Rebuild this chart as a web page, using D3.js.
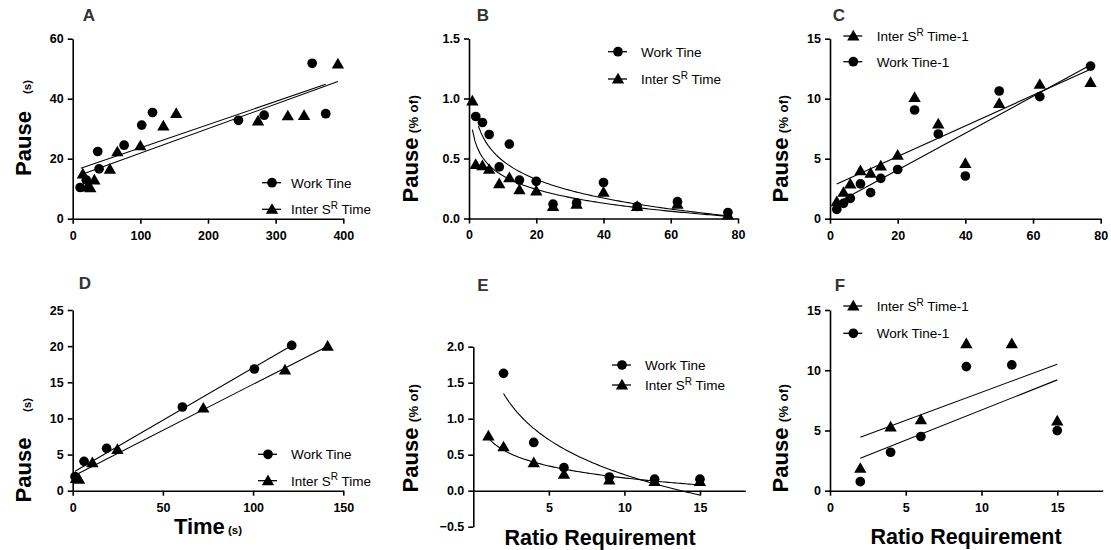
<!DOCTYPE html>
<html><head><meta charset="utf-8">
<script src="https://cdn.jsdelivr.net/npm/d3@7"></script>
<style>
body{margin:0;background:#fff;}
svg{display:block;font-family:"Liberation Sans",Arial,sans-serif;}
.tick text{font-weight:bold;font-size:12.5px;fill:#000;}
.domain,.tick line{stroke:#000;stroke-width:1.6px;}
</style></head>
<body>
<svg id="c" width="1111" height="550"></svg>
<script>
// ---------- Panel A: Pause (s) vs Time (s) ----------
const aWorkX  = [11, 20, 37, 39, 76, 102, 118, 245, 283, 354, 374];
const aWorkY  = [10.4, 12.9, 22.4, 16.6, 24.5, 31.2, 35.4, 32.8, 34.5, 51.8, 35.0];
const aInterX = [15, 22, 26, 32, 55, 66, 100, 134, 153, 274, 318, 342, 392];
const aInterY = [14.9, 10.6, 10.3, 12.9, 16.5, 22.3, 24.3, 30.9, 35.1, 32.6, 34.3, 34.4, 51.6];
const aWorkFit  = [12, 16.8, 374, 44.8];
const aInterFit = [15, 14.9, 392, 45.7];
const aXTicks = [0, 100, 200, 300, 400];
const aYTicks = [0, 20, 40, 60];

// ---------- Panel B: Pause (% of) vs ratio ----------
const bWorkX  = [2, 4, 6, 9, 12, 15, 20, 25, 32, 40, 50, 62, 77];
const bWorkY  = [0.85, 0.80, 0.70, 0.43, 0.62, 0.32, 0.31, 0.12, 0.13, 0.30, 0.10, 0.14, 0.05];
const bInterX = [1, 2, 4, 6, 9, 12, 15, 20, 25, 32, 40, 50, 62, 77];
const bInterY = [0.98, 0.45, 0.44, 0.41, 0.29, 0.34, 0.24, 0.23, 0.10, 0.12, 0.22, 0.10, 0.12, 0.03];
// log fit y = a - b*ln(x), [a, b, xmin, xmax]
const bWorkFit  = [1.0, 0.225, 2.8, 77];
const bInterFit = [0.74, 0.166, 1, 77];
const bXTicks = [0, 20, 40, 60, 80];
const bYTicks = [0, 0.5, 1.0, 1.5];

// ---------- Panel C ----------
const cX      = [2, 4, 6, 9, 12, 15, 20, 25, 32, 40, 50, 62, 77];
const cInterY = [1.42, 2.2, 2.9, 4.0, 3.8, 4.4, 5.3, 10.1, 7.9, 4.6, 9.6, 11.2, 11.35];
const cWorkY  = [0.78, 1.28, 1.7, 2.9, 2.17, 3.36, 4.1, 9.06, 7.06, 3.56, 10.64, 10.17, 12.72];
const cWorkFit  = [2, 1.3, 77, 12.8];
const cInterFit = [2, 2.9, 77, 12.45];
const cXTicks = [0, 20, 40, 60, 80];
const cYTicks = [0, 5, 10, 15];

// ---------- Panel D ----------
const dWorkX  = [1.3, 6.3, 18.8, 60.8, 100.7, 121.4];
const dWorkY  = [1.94, 4.06, 5.86, 11.58, 16.84, 20.1];
const dInterX = [1.8, 3.5, 10.9, 24.8, 72.4, 117.7, 141.3];
const dInterY = [1.7, 1.6, 3.87, 5.72, 11.44, 16.7, 20.0];
const dWorkFit  = [1.3, 2.7, 121.4, 20.1];
const dInterFit = [1.8, 2.2, 141.3, 20.0];
const dXTicks = [0, 50, 100, 150];
const dYTicks = [0, 5, 10, 15, 20, 25];

// ---------- Panel E ----------
const eWorkX  = [2, 4, 6, 9, 12, 15];
const eWorkY  = [1.63, 0.67, 0.32, 0.19, 0.16, 0.16];
const eInterX = [1, 2, 4, 6, 9, 12, 15];
const eInterY = [0.76, 0.61, 0.39, 0.23, 0.15, 0.13, 0.13];
const eWorkFit  = [1.835, 0.70, 2, 15];
const eInterFit = [0.73, 0.24, 1, 15];
const eXTicks = [5, 10, 15];
const eYTicks = [-0.5, 0, 0.5, 1.0, 1.5, 2.0];

// ---------- Panel F ----------
const fX      = [2, 4, 6, 9, 12, 15];
const fInterY = [1.86, 5.3, 5.9, 12.2, 12.2, 5.8];
const fWorkY  = [0.75, 3.19, 4.5, 10.3, 10.44, 4.99];
const fInterFit = [2, 4.43, 15, 10.5];
const fWorkFit  = [2, 2.69, 15, 9.2];
const fXTicks = [0, 5, 10, 15];
const fYTicks = [0, 5, 10, 15];

const svg = d3.select("#c");
const zip = (xs, ys) => xs.map((x, i) => [x, ys[i]]);
const circ = d3.symbol().type(d3.symbolCircle).size(74);
const tri  = d3.symbol().type(d3.symbolTriangle).size(66);

function panel(p) {
  const g = svg.append("g");
  const x = d3.scaleLinear().domain(p.xd).range(p.xr);
  const y = d3.scaleLinear().domain(p.yd).range(p.yr);
  const fmt = p.yfmt || (d => d);
  g.append("g").attr("transform", `translate(0,${y(p.xAxisAt || 0)})`)
    .call(d3.axisBottom(x).tickValues(p.xt).tickSize(5).tickPadding(7).tickSizeOuter(0).tickFormat(d => d));
  g.append("g").attr("transform", `translate(${x(0)},0)`)
    .call(d3.axisLeft(y).tickValues(p.yt).tickSize(5).tickPadding(4).tickSizeOuter(0).tickFormat(fmt));
  // fits
  p.fits.forEach(f => {
    let pts;
    if (f.type === "lin") pts = [[f.v[0], f.v[1]], [f.v[2], f.v[3]]];
    else pts = d3.range(0, 101).map(i => {
      const xv = f.v[2] + (f.v[3] - f.v[2]) * i / 100;
      return [xv, f.v[0] - f.v[1] * Math.log(xv)];
    });
    g.append("path").attr("d", d3.line().x(d => x(d[0])).y(d => y(d[1]))(pts))
      .attr("fill", "none").attr("stroke", "#000").attr("stroke-width", 1.1);
  });
  // points
  p.series.forEach(s => {
    g.selectAll(null).data(s.pts).join("path")
      .attr("transform", d => `translate(${x(d[0])},${y(d[1]) + (s.sym === "tri" ? 1 : 0)})`)
      .attr("d", s.sym === "tri" ? tri : circ).attr("fill", "#000");
  });
  // legend
  p.legend.rows.forEach((r, i) => {
    const ly = p.legend.y[i];
    const lx = p.legend.mx;
    g.append("line").attr("x1", lx - 10).attr("x2", lx + 9).attr("y1", ly).attr("y2", ly)
      .attr("stroke", "#000").attr("stroke-width", 1.3);
    g.append("path").attr("transform", `translate(${lx},${ly + (r.sym === "tri" ? 1 : 0)})`)
      .attr("d", r.sym === "tri" ? tri : circ).attr("fill", "#000");
    const t = g.append("text").attr("x", p.legend.tx).attr("y", ly + 5)
      .attr("font-size", 13.5).attr("fill", "#000");
    if (r.sup) {
      t.append("tspan").text(r.pre);
      t.append("tspan").text("R").attr("dy", -5.5).attr("font-size", 10);
      t.append("tspan").text(r.post).attr("dy", 5.5);
    } else t.text(r.pre);
  });
  // panel letter
  svg.append("text").attr("x", p.letter[0]).attr("y", p.letter[1]).attr("text-anchor", "middle")
    .attr("font-weight", "bold").attr("font-size", 17).attr("fill", "#333").text(p.letter[2]);
  // y label
  const yl = p.ylab;
  svg.append("text").attr("transform", `translate(${yl.x},${yl.y1}) rotate(-90)`).attr("text-anchor", "middle")
    .attr("font-weight", "bold").attr("font-size", 22).text("Pause");
  svg.append("text").attr("transform", `translate(${yl.x},${yl.y2}) rotate(-90)`).attr("text-anchor", "middle")
    .attr("font-weight", "bold").attr("font-size", yl.unit === "(s)" ? 11.5 : 13)
    .attr("letter-spacing", yl.unit === "(s)" ? 0 : 0.4).text(yl.unit);
}

const workRow  = {sym: "circ", pre: "Work Tine"};
const interRow = {sym: "tri", sup: true, pre: "Inter S", post: " Time"};
const work1Row  = {sym: "circ", pre: "Work Tine-1"};
const inter1Row = {sym: "tri", sup: true, pre: "Inter S", post: " Time-1"};
const one = d => d3.format(".1f")(d);

panel({xd: [0, 400], xr: [72.7, 343.3], yd: [0, 60], yr: [218.7, 38.7], xt: aXTicks, yt: aYTicks,
  fits: [{type: "lin", v: aWorkFit}, {type: "lin", v: aInterFit}],
  series: [{sym: "circ", pts: zip(aWorkX, aWorkY)}, {sym: "tri", pts: zip(aInterX, aInterY)}],
  legend: {mx: 272, tx: 291, y: [182.7, 209.3], rows: [workRow, interRow]},
  letter: [89, 21, "A"], ylab: {x: 31, y1: 143.5, y2: 87, unit: "(s)"}});

panel({xd: [0, 80], xr: [469, 738], yd: [0, 1.5], yr: [218.5, 38.5], xt: bXTicks, yt: bYTicks, yfmt: one,
  fits: [{type: "log", v: bWorkFit}, {type: "log", v: bInterFit}],
  series: [{sym: "circ", pts: zip(bWorkX, bWorkY)}, {sym: "tri", pts: zip(bInterX, bInterY)}],
  legend: {mx: 618, tx: 641, y: [51.7, 79], rows: [workRow, interRow]},
  letter: [483, 21, "B"], ylab: {x: 418, y1: 170, y2: 114, unit: "(% of)"}});

panel({xd: [0, 80], xr: [830, 1100.7], yd: [0, 15], yr: [218.7, 38.7], xt: cXTicks, yt: cYTicks,
  fits: [{type: "lin", v: cWorkFit}, {type: "lin", v: cInterFit}],
  series: [{sym: "tri", pts: zip(cX, cInterY)}, {sym: "circ", pts: zip(cX, cWorkY)}],
  legend: {mx: 853.3, tx: 876.7, y: [36, 61.7], rows: [inter1Row, work1Row]},
  letter: [839, 21, "C"], ylab: {x: 788, y1: 170, y2: 114, unit: "(% of)"}});

panel({xd: [0, 150], xr: [72.7, 343.3], yd: [0, 25], yr: [490.7, 310], xt: dXTicks, yt: dYTicks,
  fits: [{type: "lin", v: dWorkFit}, {type: "lin", v: dInterFit}],
  series: [{sym: "circ", pts: zip(dWorkX, dWorkY)}, {sym: "tri", pts: zip(dInterX, dInterY)}],
  legend: {mx: 268, tx: 291, y: [454.3, 480.7], rows: [workRow, interRow]},
  letter: [85, 289, "D"], ylab: {x: 31, y1: 470, y2: 405, unit: "(s)"}});

panel({xd: [0, 18], xr: [473.3, 745.3], yd: [-0.5, 2.0], yr: [526.7, 346.7], xt: eXTicks, yt: eYTicks, yfmt: one,
  fits: [{type: "log", v: eWorkFit}, {type: "log", v: eInterFit}],
  series: [{sym: "circ", pts: zip(eWorkX, eWorkY)}, {sym: "tri", pts: zip(eInterX, eInterY)}],
  legend: {mx: 622, tx: 645, y: [365, 385], rows: [workRow, interRow]},
  letter: [483, 291, "E"], ylab: {x: 418, y1: 460, y2: 403, unit: "(% of)"}});

panel({xd: [0, 18], xr: [830, 1102.7], yd: [0, 15], yr: [490.7, 310], xt: fXTicks, yt: fYTicks,
  fits: [{type: "lin", v: fInterFit}, {type: "lin", v: fWorkFit}],
  series: [{sym: "tri", pts: zip(fX, fInterY)}, {sym: "circ", pts: zip(fX, fWorkY)}],
  legend: {mx: 853.3, tx: 876.7, y: [306, 333.3], rows: [inter1Row, work1Row]},
  letter: [840, 291, "F"], ylab: {x: 788, y1: 460, y2: 403, unit: "(% of)"}});

// x-axis titles
const xt = svg.append("text").attr("x", 208).attr("y", 534).attr("text-anchor", "middle").attr("font-weight", "bold");
xt.append("tspan").attr("font-size", 22).text("Time");
xt.append("tspan").attr("font-size", 11.5).text(" (s)");
svg.append("text").attr("x", 600).attr("y", 545).attr("text-anchor", "middle").attr("font-weight", "bold")
  .attr("font-size", 21.5).text("Ratio Requirement");
svg.append("text").attr("x", 966).attr("y", 544).attr("text-anchor", "middle").attr("font-weight", "bold")
  .attr("font-size", 21.5).text("Ratio Requirement");
</script>
</body></html>
